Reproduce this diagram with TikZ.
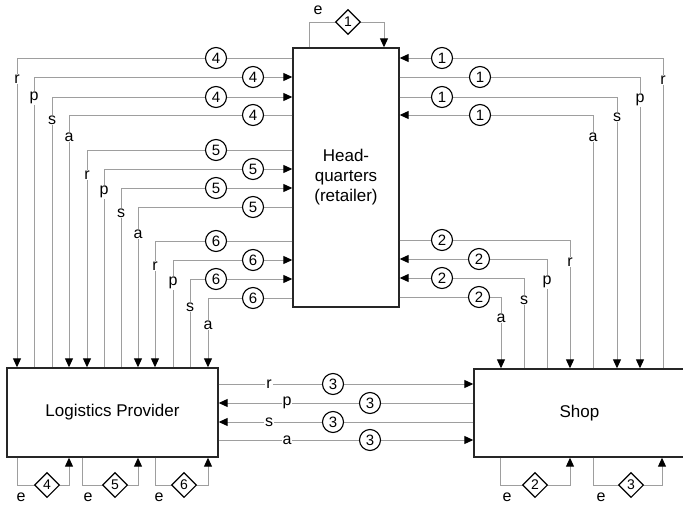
\documentclass[tikz,border=0pt]{standalone}
\usepackage{fontspec}
\setmainfont{Liberation Sans}
\usetikzlibrary{arrows.meta,shapes.geometric}
\begin{document}
\begin{tikzpicture}[x=1pt,y=-1pt,
  >={Triangle[length=9pt,width=8pt,color=black]},
  box/.style={draw=black!85, line width=1.4pt, fill=white, inner sep=0pt,
    font=\fontsize{17}{20}\selectfont, align=center},
  flow/.style={draw=black!38, line width=1pt},
  lab/.style={fill=white, inner sep=1pt, font=\fontsize{16}{16}\selectfont},
  elab/.style={inner sep=0pt, font=\fontsize{16}{16}\selectfont},
  num/.style={circle, draw=black, line width=1.1pt, fill=white, minimum size=21pt,
    inner sep=0pt, font=\fontsize{15}{15}\selectfont},
  dia/.style={diamond, draw=black, line width=1.1pt, fill=white, minimum size=25pt,
    inner sep=0pt, font=\fontsize{14}{14}\selectfont}]
\useasboundingbox[fill=white] (0,0) rectangle (683,506);

% main boxes
\node[box, minimum width=106pt, minimum height=259pt] (HQ) at (346,177.5) {Head-\\quarters\\(retailer)};
\node[box, minimum width=211pt, minimum height=89pt] (LP) at (112.5,412.5) {Logistics Provider};
\node[box, minimum width=211pt, minimum height=88pt] (SH) at (579.5,413) {Shop};

% left groups: HQ <-> Logistics Provider
\foreach \n/\y/\x/\cx/\ly/\t/\d in {
  4/58/17/216/79/r/->, 4/77/34/253/98/p/<-, 4/97/52/216/120/s/<-, 4/115/69/253/137/a/->,
  5/150/87/216/175/r/->, 5/169/104/253/192/p/<-, 5/188/121/216/213/s/<-, 5/207/138/253/234/a/->,
  6/241/155/216/266/r/->, 6/260/173/253/283/p/<-, 6/279/190/216/307/s/<-, 6/298/208/253/325/a/->}
{
  \draw[flow,\d] (HQ.west |- 0,\y) -| (LP.north -| \x,0);
  \node[lab] (L\n\t) at (\x,\ly) {\t};
  \node[num] (C\n\t) at (\cx,\y) {\n};
}

% right groups: Shop <-> HQ
\foreach \n/\y/\x/\cx/\ly/\t/\d in {
  1/58/663/442/80/r/<-, 1/77/640/480/100/p/->, 1/97/617/442/117/s/->, 1/115/593/480/137/a/<-,
  2/240/570/442/262/r/->, 2/259/547/479/282/p/<-, 2/278/524/442/300/s/<-, 2/297/501/479/318/a/->}
{
  \draw[flow,\d] (HQ.east |- 0,\y) -| (SH.north -| \x,0);
  \node[lab] (L\n\t) at (\x,\ly) {\t};
  \node[num] (C\n\t) at (\cx,\y) {\n};
}

% middle group: Logistics Provider <-> Shop
\foreach \y/\lx/\cx/\t/\d in {384/269/333/r/->, 403/287/370/p/<-, 422/269/333/s/<-, 440/287/370/a/->}
{
  \draw[flow,\d] (LP.east |- 0,\y) -- (SH.west |- 0,\y);
  \node[lab] (L3\t) at (\lx,\y) {\t};
  \node[num] (C3\t) at (\cx,\y) {3};
}

% self loops (e)
\foreach \a/\b/\dx/\ex/\n in {17/69/47/21/4, 82/138/115/88/5, 155/208/184/159/6}
{
  \draw[flow,->] (LP.south -| \a,0) |- (\b,485) -- (LP.south -| \b,0);
  \node[dia] (D\n) at (\dx,485) {\n};
  \node[elab] (E\n) at (\ex,497) {e};
}
\foreach \a/\b/\dx/\ex/\n in {500/570/535/507/2, 593/662/631/601/3}
{
  \draw[flow,->] (SH.south -| \a,0) |- (\b,485) -- (SH.south -| \b,0);
  \node[dia] (D\n) at (\dx,485) {\n};
  \node[elab] (E\n) at (\ex,497) {e};
}
\draw[flow,->] (HQ.north -| 309,0) |- (384,22) -- (HQ.north -| 384,0);
\node[dia] (D1) at (348,22) {1};
\node[elab] (E1) at (318,10) {e};
\end{tikzpicture}
\end{document}
